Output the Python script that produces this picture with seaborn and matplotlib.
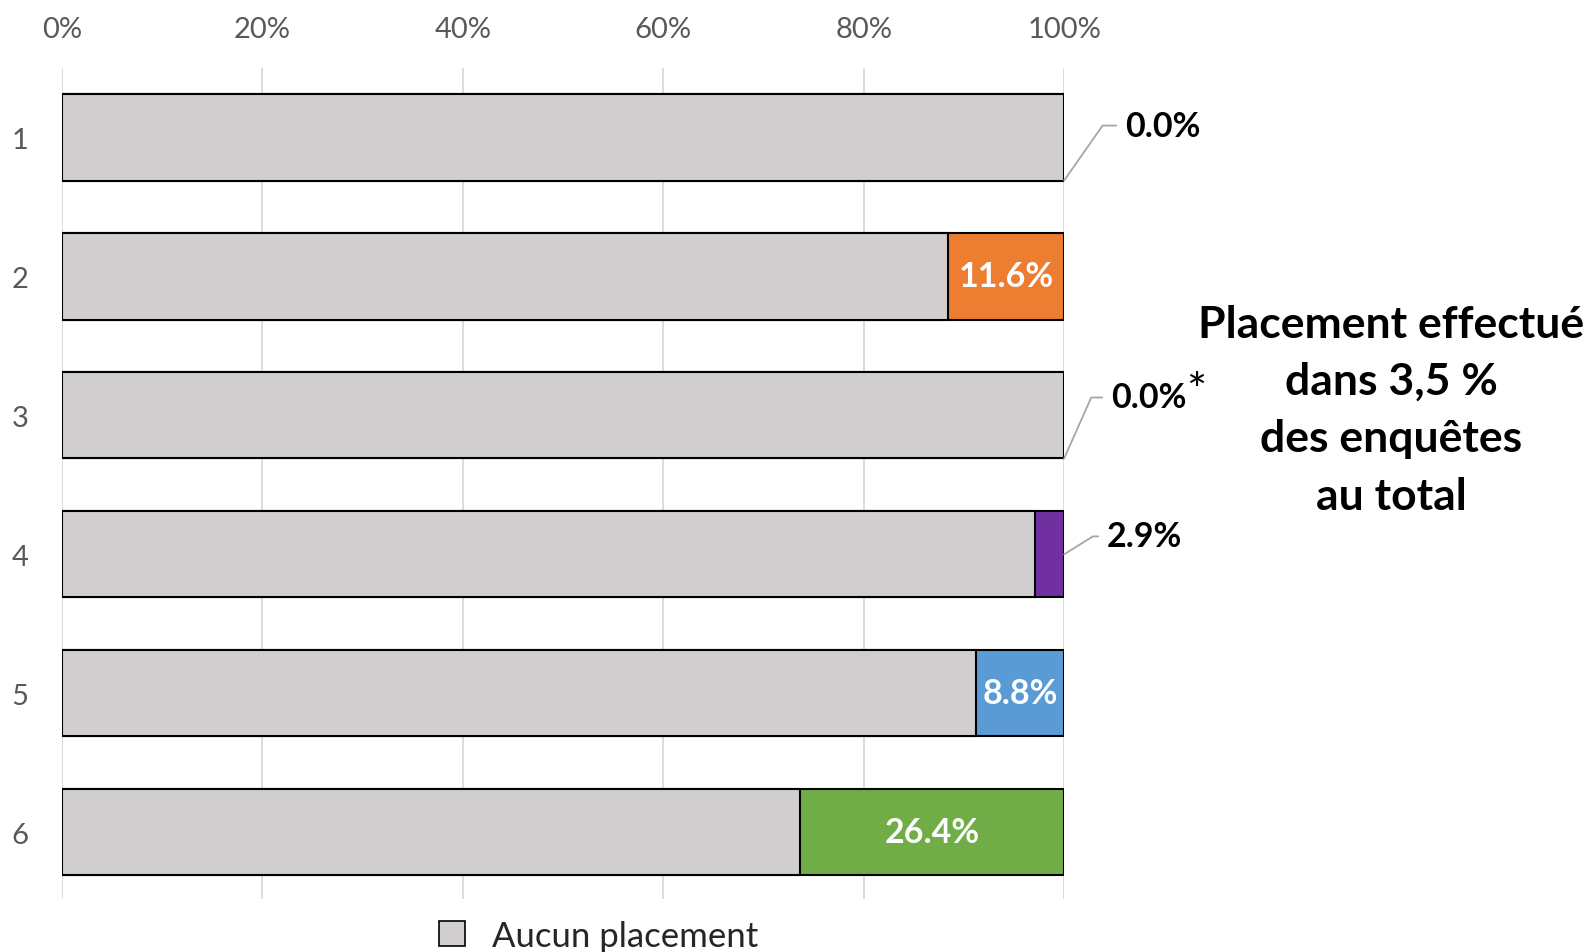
import numpy as np
import pandas as pd
import seaborn as sns
import matplotlib.pyplot as plt
from matplotlib.patches import Patch

# données
groupes = ['1', '2', '3', '4', '5', '6']
placement = np.array([0.0, 11.6, 0.0, 2.9, 8.8, 26.4])
couleurs = ['#d0cece', '#ed7d31', '#d0cece', '#7030a0', '#5b9bd5', '#70ad47']
gris = '#d0cece'

df = pd.DataFrame({'groupe': groupes,
                   'placement': placement,
                   'aucun': 100 - placement,
                   'total': 100.0})

sns.set_style('white')
plt.rcParams['font.family'] = ['Lato', 'DejaVu Sans']

fig = plt.figure(figsize=(15.92, 9.53), dpi=100)
ax = fig.add_axes([0.039, 0.0556, 0.6294, 0.872])

# barre totale colorée puis "aucun placement" par dessus (empilement)
sns.barplot(data=df, y='groupe', x='total', hue='groupe', palette=couleurs,
            orient='h', width=0.62, edgecolor='black', linewidth=1.5,
            saturation=1, legend=False, ax=ax, zorder=2)
sns.barplot(data=df, y='groupe', x='aucun', color=gris, orient='h', width=0.62,
            edgecolor='black', linewidth=1.5, saturation=1, ax=ax, zorder=3)

ax.set_xlim(0, 100)
ax.set_ylim(5.48, -0.5)
ax.set_xticks(np.arange(0, 101, 20))
ax.set_xticklabels([f'{v}%' for v in range(0, 101, 20)])
ax.xaxis.set_ticks_position('top')
ax.tick_params(axis='x', length=0, pad=19, labelsize=21, labelcolor='#595959')
ax.tick_params(axis='y', length=0, pad=24, labelsize=21, labelcolor='#595959')
ax.grid(axis='x', color='#d9d9d9', lw=1.3)
ax.set_axisbelow(True)
for s in ax.spines.values():
    s.set_visible(False)
ax.set_xlabel('')
ax.set_ylabel('')

# étiquettes dans les barres
for i, (a, p) in enumerate(zip(df['aucun'], df['placement'])):
    if p >= 5:
        ax.text(a + p / 2, i, f'{p:.1f}%', ha='center', va='center',
                color='white', fontsize=24.5, fontweight='bold', zorder=5)

# étiquettes avec trait de rappel
rappels = [(0, '0.0%', (61, 55), 55), (2, '0.0%', (47, 61), 66),
           (3, '2.9%', (43, 18), 32)]
for i, txt, off, ang in rappels:
    yb = i + 0.31 if ang > 40 else i
    ax.annotate(txt, xy=(100, yb), xytext=off, textcoords='offset pixels',
                ha='left', va='center', fontsize=24.5, fontweight='bold',
                color='black', annotation_clip=False,
                arrowprops=dict(arrowstyle='-', color='#a6a6a6', lw=1.3,
                                shrinkA=4, shrinkB=0,
                                connectionstyle=f'angle,angleA=0,angleB={ang},rad=0'))
# astérisque du groupe 3
ax.annotate('*', xy=(100, 2.31), xytext=(122, 66), textcoords='offset pixels',
            ha='left', va='center', fontsize=34, color='black',
            annotation_clip=False)

fig.text(0.874, 0.569, 'Placement effectué\ndans 3,5 %\ndes enquêtes\nau total',
         ha='center', va='center', fontsize=32, fontweight='bold',
         linespacing=1.53, color='black')

fig.legend(handles=[Patch(facecolor=gris, edgecolor='black', lw=1.2)],
           labels=['Aucun placement'], loc='center',
           bbox_to_anchor=(0.376, 0.017), frameon=False, fontsize=25,
           handlelength=0.75, handleheight=0.75, handletextpad=0.8)

fig.savefig('out.png', dpi=100)
